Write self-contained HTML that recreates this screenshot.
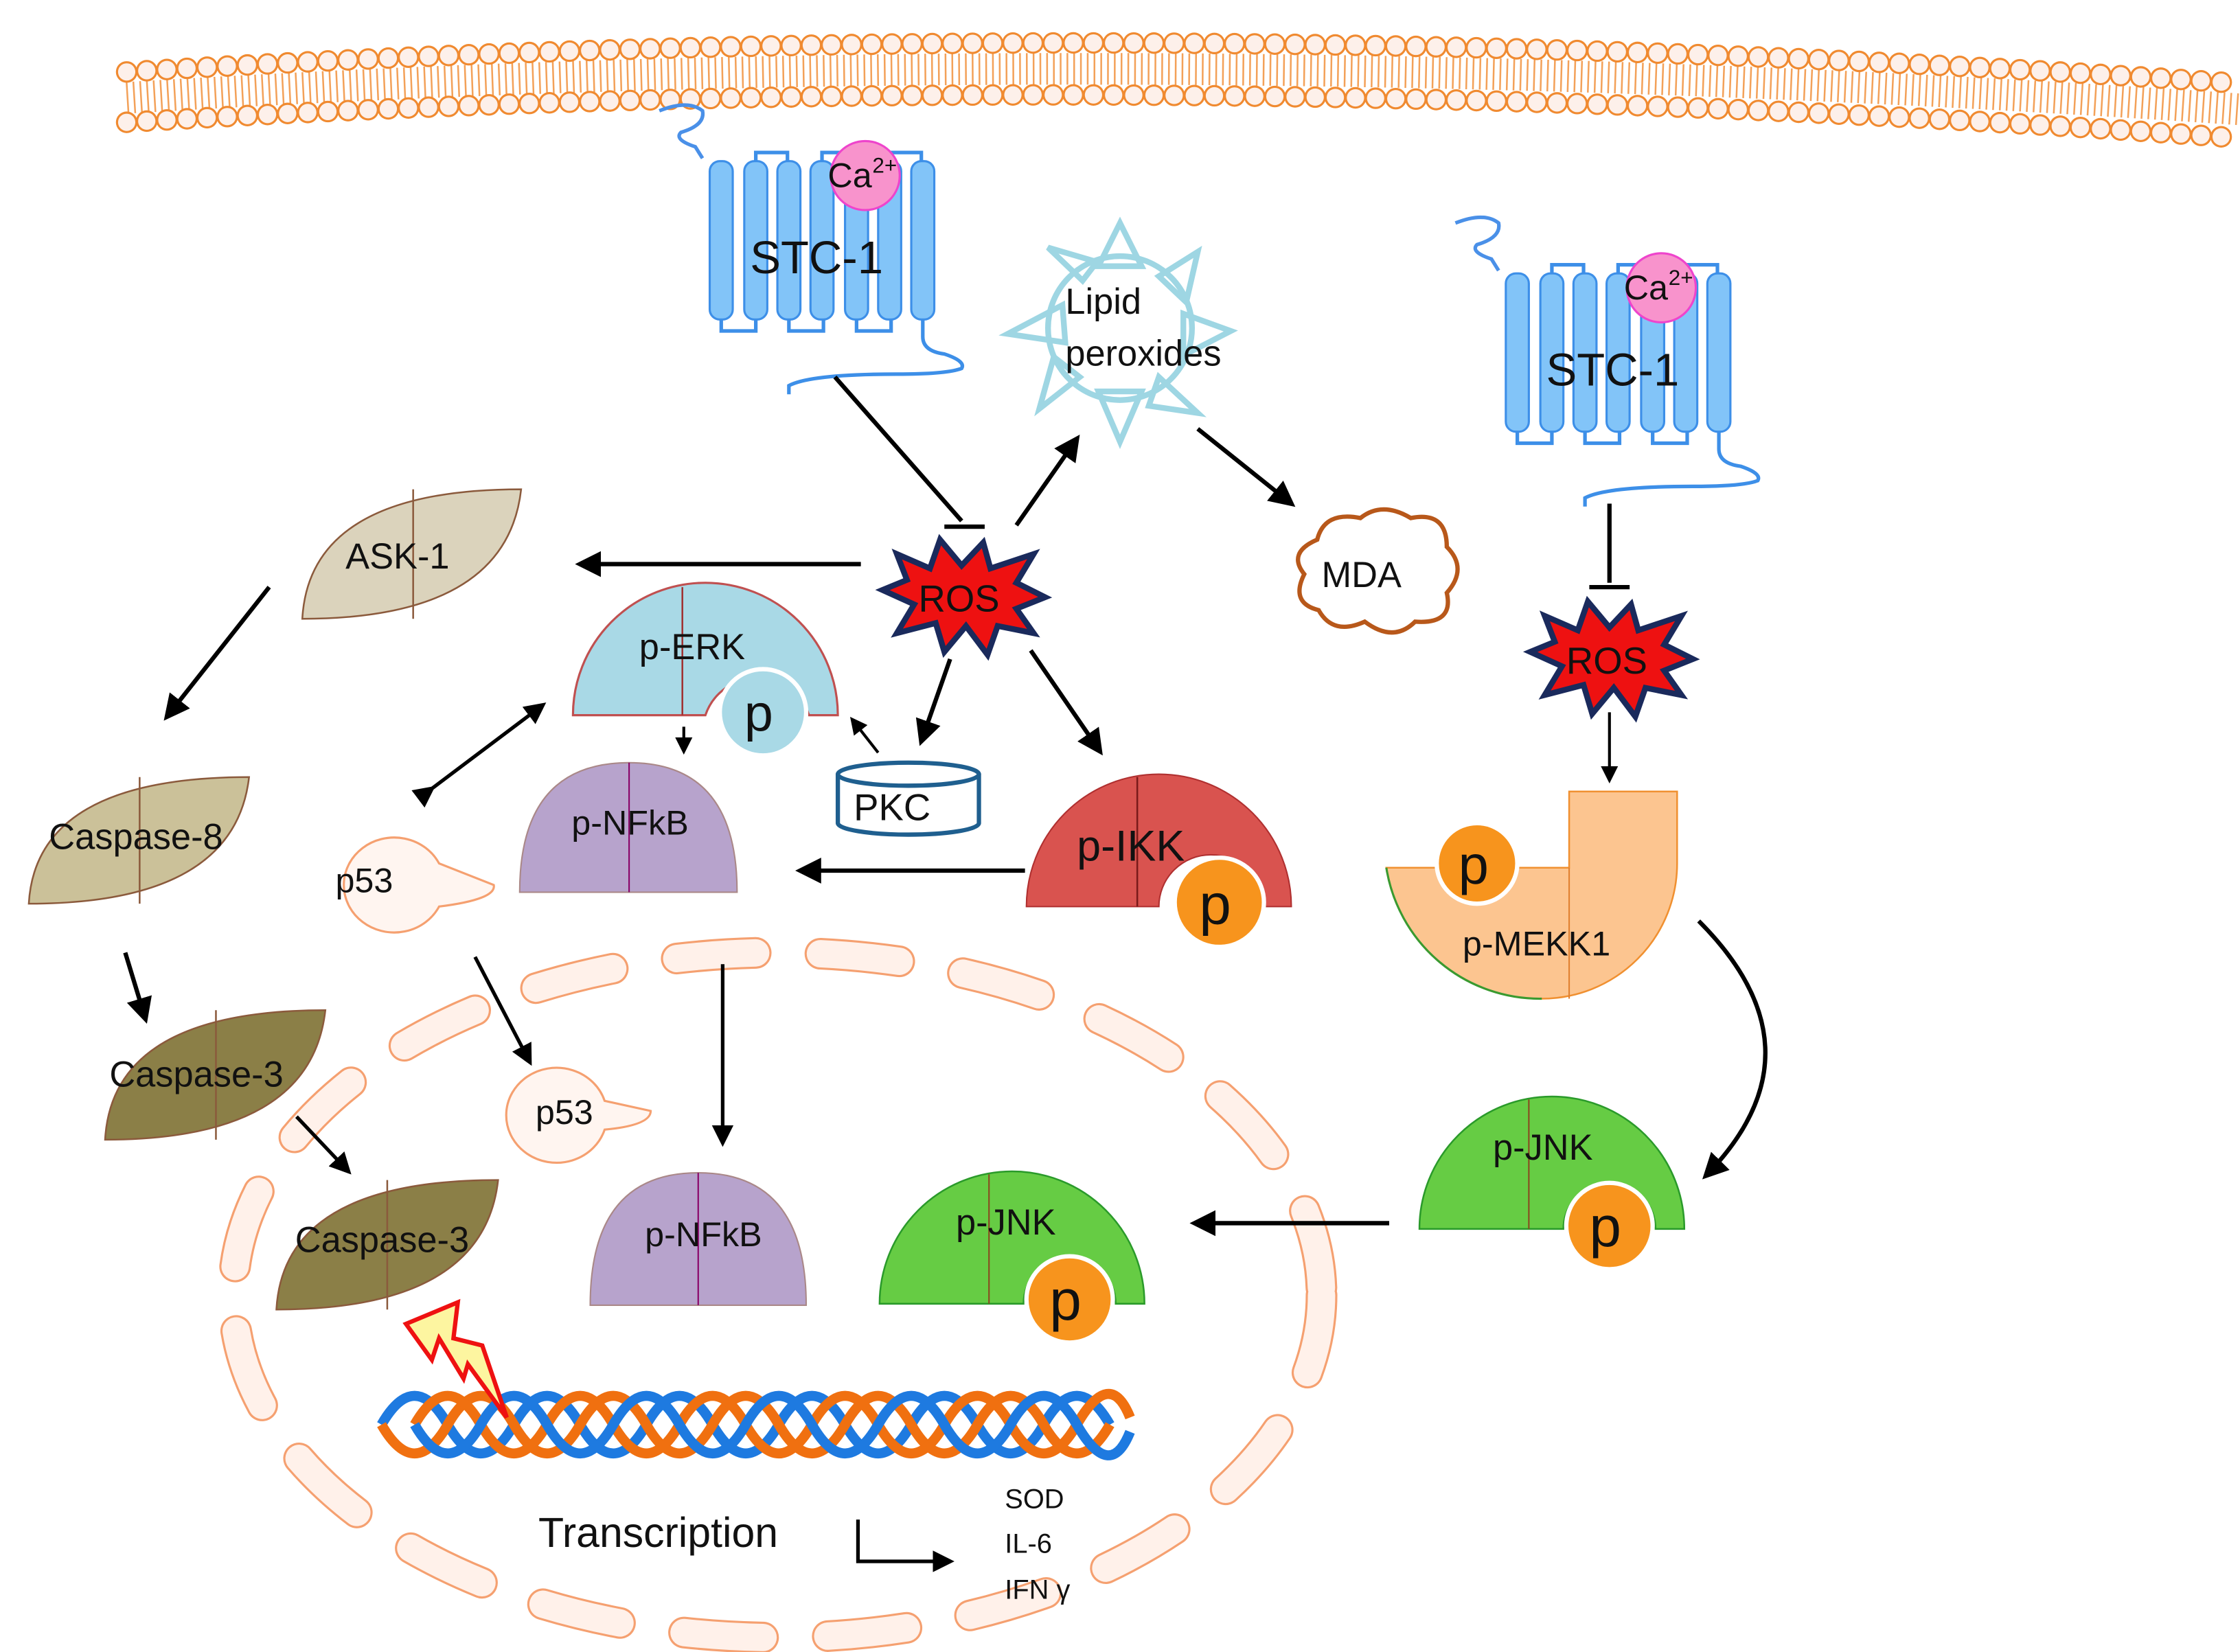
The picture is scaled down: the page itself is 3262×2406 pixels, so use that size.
<!DOCTYPE html>
<html><head><meta charset="utf-8"><style>
html,body{margin:0;padding:0;background:#fff;}
svg{display:block;}
text{font-family:"Liberation Sans",sans-serif;fill:#111;}
</style></head><body>
<svg width="3262" height="2406" viewBox="0 0 1556 1148" preserveAspectRatio="none" xmlns="http://www.w3.org/2000/svg">
<defs>
<marker id="ah" viewBox="0 0 10 10" refX="8" refY="5" markerWidth="6" markerHeight="6" orient="auto"><path d="M0,0 L10,5 L0,10 z" fill="#000"/></marker>
<g id="stc">
  <path d="M-35,-35 q20,-8 30,0 q2,10 -15,15 q-5,5 10,10 l5,8" fill="none" stroke="#4a90e8" stroke-width="2.5"/>
  <g fill="#82c4f8" stroke="#3d8fe8" stroke-width="1.5">
    <rect x="0" y="0" width="16" height="110" rx="7"/>
    <rect x="24" y="0" width="16" height="110" rx="7"/>
    <rect x="47" y="0" width="16" height="110" rx="7"/>
    <rect x="70" y="0" width="16" height="110" rx="7"/>
    <rect x="94" y="0" width="16" height="110" rx="7"/>
    <rect x="117" y="0" width="16" height="110" rx="7"/>
    <rect x="140" y="0" width="16" height="110" rx="7"/>
  </g>
  <path d="M8,110 v8 h24 v-8 M55,110 v8 h24 v-8 M102,110 v8 h24 v-8 M32,0 v-6 h22 v6 M78,0 v-6 h22 v6 M125,0 v-6 h22 v6 M148,110 v12 q0,10 15,12 q15,5 12,10 q-10,4 -45,4 q-60,0 -75,8 v6" fill="none" stroke="#3d8fe8" stroke-width="2.5"/>
  <circle cx="108" cy="10" r="24" fill="#f893cc" stroke="#ee44cc" stroke-width="1.5"/>
  <text x="82" y="18" font-size="24">Ca</text><text x="113" y="8" font-size="15">2+</text>
  <text x="28" y="78" font-size="32">STC-1</text>
</g>
<g id="ros">
  <path d="M-55,-5 L-38,-12 L-45,-30 L-22,-20 L-15,-40 L0,-22 L15,-38 L20,-20 L50,-30 L38,-10 L58,0 L38,8 L50,25 L25,20 L18,40 L3,20 L-12,38 L-18,18 L-45,25 L-33,5 Z" fill="#ee1111" stroke="#1a2a5c" stroke-width="4"/>
  <text x="-30" y="10" font-size="26" fill="#222">ROS</text>
</g>
</defs>

<!-- membrane -->
<path d="M88,52 Q800,8 1556,60" fill="none" stroke="#f08a30" stroke-width="22" stroke-dasharray="1.2 3.5" opacity="0.8" transform="translate(0,16)"/>
<path d="M88,50 Q800,6 1556,58" fill="none" stroke="#f08a30" stroke-width="15" stroke-linecap="round" stroke-dasharray="0 14"/>
<path d="M88,50 Q800,6 1556,58" fill="none" stroke="#fdf0ea" stroke-width="12" stroke-linecap="round" stroke-dasharray="0 14"/>
<path d="M88,85 Q800,42 1556,96" fill="none" stroke="#f08a30" stroke-width="15" stroke-linecap="round" stroke-dasharray="0 14"/>
<path d="M88,85 Q800,42 1556,96" fill="none" stroke="#fdf0ea" stroke-width="12" stroke-linecap="round" stroke-dasharray="0 14"/>

<!-- nucleus -->
<ellipse cx="540" cy="900" rx="378" ry="238" fill="none" stroke="#f5a070" stroke-width="22" stroke-linecap="round" stroke-dasharray="55 45"/>
<ellipse cx="540" cy="900" rx="378" ry="238" fill="none" stroke="#fff1ea" stroke-width="19" stroke-linecap="round" stroke-dasharray="55 45"/>

<use href="#stc" x="493" y="112"/>
<use href="#stc" x="1046" y="190"/>

<!-- lipid peroxides -->
<g fill="none" stroke="#9ed6e3" stroke-width="4">
<circle cx="778" cy="228" r="50"/>
<path d="M763,185 L778,155 L793,185 Z M805,192 L832,175 L824,210 Z M822,218 L855,230 L822,247 Z M805,262 L832,287 L798,282 Z M763,272 L778,307 L793,272 Z M750,262 L722,284 L732,248 Z M740,238 L700,232 L738,212 Z M752,195 L728,172 L762,182 Z"/>
</g>
<text x="740" y="218" font-size="25">Lipid</text>
<text x="740" y="254" font-size="25">peroxides</text>

<!-- MDA cloud -->
<path d="M915,375 q5,-20 30,-15 q15,-12 35,0 q25,-5 25,20 q15,15 0,32 q5,22 -22,20 q-15,15 -35,0 q-22,10 -32,-8 q-20,-5 -10,-25 q-12,-15 9,-24z" fill="#fff" stroke="#b8581a" stroke-width="3"/>
<text x="918" y="408" font-size="25">MDA</text>

<use href="#ros" x="668" y="415"/>
<use href="#ros" x="1118" y="458"/>

<!-- arrows -->
<g stroke="#000" stroke-width="3" fill="none">
<path d="M580,262 L668,362"/><path d="M656,366 L684,366" />
<path d="M706,365 L748,305" marker-end="url(#ah)"/>
<path d="M832,298 L897,350" marker-end="url(#ah)"/>
<path d="M598,392 L403,392" marker-end="url(#ah)"/>
<path d="M660,458 L640,515" marker-end="url(#ah)"/>
<path d="M716,452 L764,522" marker-end="url(#ah)"/>
<path d="M1118,350 L1118,405"/><path d="M1104,408 L1132,408"/>
<path d="M1118,495 L1118,542" marker-end="url(#ah)" stroke-width="2"/>
<path d="M187,408 L116,498" marker-end="url(#ah)"/>
<path d="M87,662 L101,708" marker-end="url(#ah)"/>
<path d="M206,776 L242,814" marker-end="url(#ah)" stroke-width="2.5"/>
<path d="M300,548 L377,490" marker-end="url(#ah)" marker-start="url(#ah)" stroke-width="2.5"/>
<path d="M475,505 L475,522" marker-end="url(#ah)" stroke-width="2"/>
<path d="M610,523 L592,500" marker-end="url(#ah)" stroke-width="2"/>
<path d="M712,605 L556,605" marker-end="url(#ah)"/>
<path d="M330,665 L368,738" marker-end="url(#ah)" stroke-width="2.5"/>
<path d="M502,670 L502,794" marker-end="url(#ah)" stroke-width="2.5"/>
<path d="M965,850 L830,850" marker-end="url(#ah)"/>
<path d="M1180,640 Q1270,730 1185,817" marker-end="url(#ah)"/>
<path d="M596,1056 L596,1085 L660,1085" marker-end="url(#ah)" stroke-width="2.5"/>
</g>

<!-- leaf shapes -->
<g stroke="#8b5a3c" stroke-width="1.2">
<path d="M210,430 Q215,340 362,340 Q352,430 210,430Z" fill="#dbd3bc"/><path d="M287,340 V430"/>
<path d="M20,628 Q25,540 173,540 Q163,628 20,628Z" fill="#cbc199"/><path d="M97,540 V628"/>
<path d="M73,792 Q78,702 226,702 Q216,792 73,792Z" fill="#8b7f47"/><path d="M150,702 V792"/>
<path d="M192,910 Q197,820 346,820 Q336,910 192,910Z" fill="#8b7f47"/><path d="M269,820 V910"/>
</g>
<text x="240" y="395" font-size="25">ASK-1</text>
<text x="34" y="590" font-size="25">Caspase-8</text>
<text x="76" y="755" font-size="25">Caspase-3</text>
<text x="205" y="870" font-size="25">Caspase-3</text>

<!-- p-ERK -->
<path d="M398,497 A91,91 0 0 1 582,497 L562,497 A38,38 0 0 0 490,497 Z" fill="#a9d9e6" stroke="#c05050" stroke-width="1.5"/>
<path d="M474,408 V497" stroke="#a03030" stroke-width="1.2"/>
<circle cx="530" cy="495" r="30" fill="#a9d9e6" stroke="#fff" stroke-width="3"/>
<text x="517" y="508" font-size="36" fill="#fff">p</text>
<text x="444" y="458" font-size="25">p-ERK</text>

<!-- p-NFkB -->
<path d="M361,620 Q361,530 437,530 Q512,530 512,620Z" fill="#b7a3cc" stroke="#a88" stroke-width="1"/><path d="M437,530 V620" stroke="#806" stroke-width="1"/>
<text x="397" y="580" font-size="24">p-NFkB</text>
<path d="M410,907 Q410,815 485,815 Q560,815 560,907Z" fill="#b7a3cc" stroke="#a88" stroke-width="1"/><path d="M485,815 V907" stroke="#806" stroke-width="1"/>
<text x="448" y="866" font-size="24">p-NFkB</text>

<!-- PKC -->
<path d="M582,538 V572 A49,8 0 0 0 680,572 V538" fill="#fff" stroke="#1f5f8f" stroke-width="3"/>
<ellipse cx="631" cy="538" rx="49" ry="8" fill="#fff" stroke="#1f5f8f" stroke-width="3"/>
<text x="593" y="570" font-size="26">PKC</text>

<!-- p-IKK -->
<path d="M713,630 A92,92 0 0 1 897,630 L877,630 A36,36 0 0 0 805,630 Z" fill="#d9534f" stroke="#b03030" stroke-width="1"/>
<path d="M790,540 V630" stroke="#7a1a1a" stroke-width="1.2"/>
<circle cx="847" cy="627" r="31" fill="#f7941d" stroke="#fff" stroke-width="3"/>
<text x="833" y="642" font-size="40" fill="#fff">p</text>
<text x="748" y="598" font-size="30">p-IKK</text>

<!-- p-MEKK1 -->
<path d="M1090,550 H1165 V600 A94,94 0 0 1 1071,694 A108,108 0 0 1 963,603 H1000 A36,36 0 0 0 1054,603 H1090 Z" fill="#fcc590" stroke="#f09030" stroke-width="1.2"/>
<path d="M963,603 A108,108 0 0 0 1071,694" fill="none" stroke="#3a9a30" stroke-width="1.5"/>
<path d="M1090,603 V694" stroke="#e08030" stroke-width="1"/>
<circle cx="1026" cy="600" r="28" fill="#f7941d" stroke="#fff" stroke-width="3"/>
<text x="1013" y="614" font-size="38" fill="#fff">p</text>
<text x="1016" y="664" font-size="24">p-MEKK1</text>

<!-- p-JNK -->
<path d="M986,854 A92,92 0 0 1 1170,854 L1150,854 A32,32 0 0 0 1086,854 Z" fill="#66cc44" stroke="#2a9a2a" stroke-width="1.2"/>
<path d="M1062,764 V854" stroke="#8a4a20" stroke-width="1"/>
<circle cx="1118" cy="852" r="30" fill="#f7941d" stroke="#fff" stroke-width="3"/>
<text x="1104" y="866" font-size="40" fill="#fff">p</text>
<text x="1037" y="806" font-size="25">p-JNK</text>
<path d="M611,906 A92,92 0 0 1 795,906 L775,906 A32,32 0 0 0 711,906 Z" fill="#66cc44" stroke="#2a9a2a" stroke-width="1.2"/>
<path d="M687,816 V906" stroke="#8a4a20" stroke-width="1"/>
<circle cx="743" cy="903" r="30" fill="#f7941d" stroke="#fff" stroke-width="3"/>
<text x="729" y="917" font-size="40" fill="#fff">p</text>
<text x="664" y="858" font-size="25">p-JNK</text>

<!-- p53 -->
<path d="M305,600 A35,33 0 1 0 305,630 Q345,625 343,615 Z" fill="#fff5f0" stroke="#f5a070" stroke-width="1.5"/>
<text x="233" y="620" font-size="24">p53</text>
<path d="M420,765 A35,33 0 1 0 420,785 Q452,782 452,772 Z" fill="#fff5f0" stroke="#f5a070" stroke-width="1.5"/>
<text x="372" y="781" font-size="24">p53</text>

<!-- DNA -->
<g fill="none" stroke-width="7">
<path d="M265,990 Q288,950 311,990 T357,990 T403,990 T449,990 T495,990 T541,990 T587,990 T633,990 T679,990 T725,990 T771,990" stroke="#1e7ae0"/>
<path d="M265,990 Q288,1030 311,990 T357,990 T403,990 T449,990 T495,990 T541,990 T587,990 T633,990 T679,990 T725,990 T771,990" stroke="#f07010"/>
<path d="M288,990 Q311,950 334,990 T380,990 T426,990 T472,990 T518,990 T564,990 T610,990 T656,990 T702,990 T748,990 T785,985" stroke="#f07010"/>
<path d="M288,990 Q311,1030 334,990 T380,990 T426,990 T472,990 T518,990 T564,990 T610,990 T656,990 T702,990 T748,990 T785,995" stroke="#1e7ae0"/>
</g>
<!-- lightning -->
<path d="M282,920 L318,905 L315,930 L335,935 L352,985 L325,948 L322,958 L305,930 L300,945 Z" fill="#fdf5a0" stroke="#ee1111" stroke-width="3"/>

<text x="374" y="1075" font-size="29">Transcription</text>
<text x="698" y="1048" font-size="19">SOD</text>
<text x="698" y="1079" font-size="19">IL-6</text>
<text x="698" y="1111" font-size="19">IFN γ</text>
</svg>
</body></html>
